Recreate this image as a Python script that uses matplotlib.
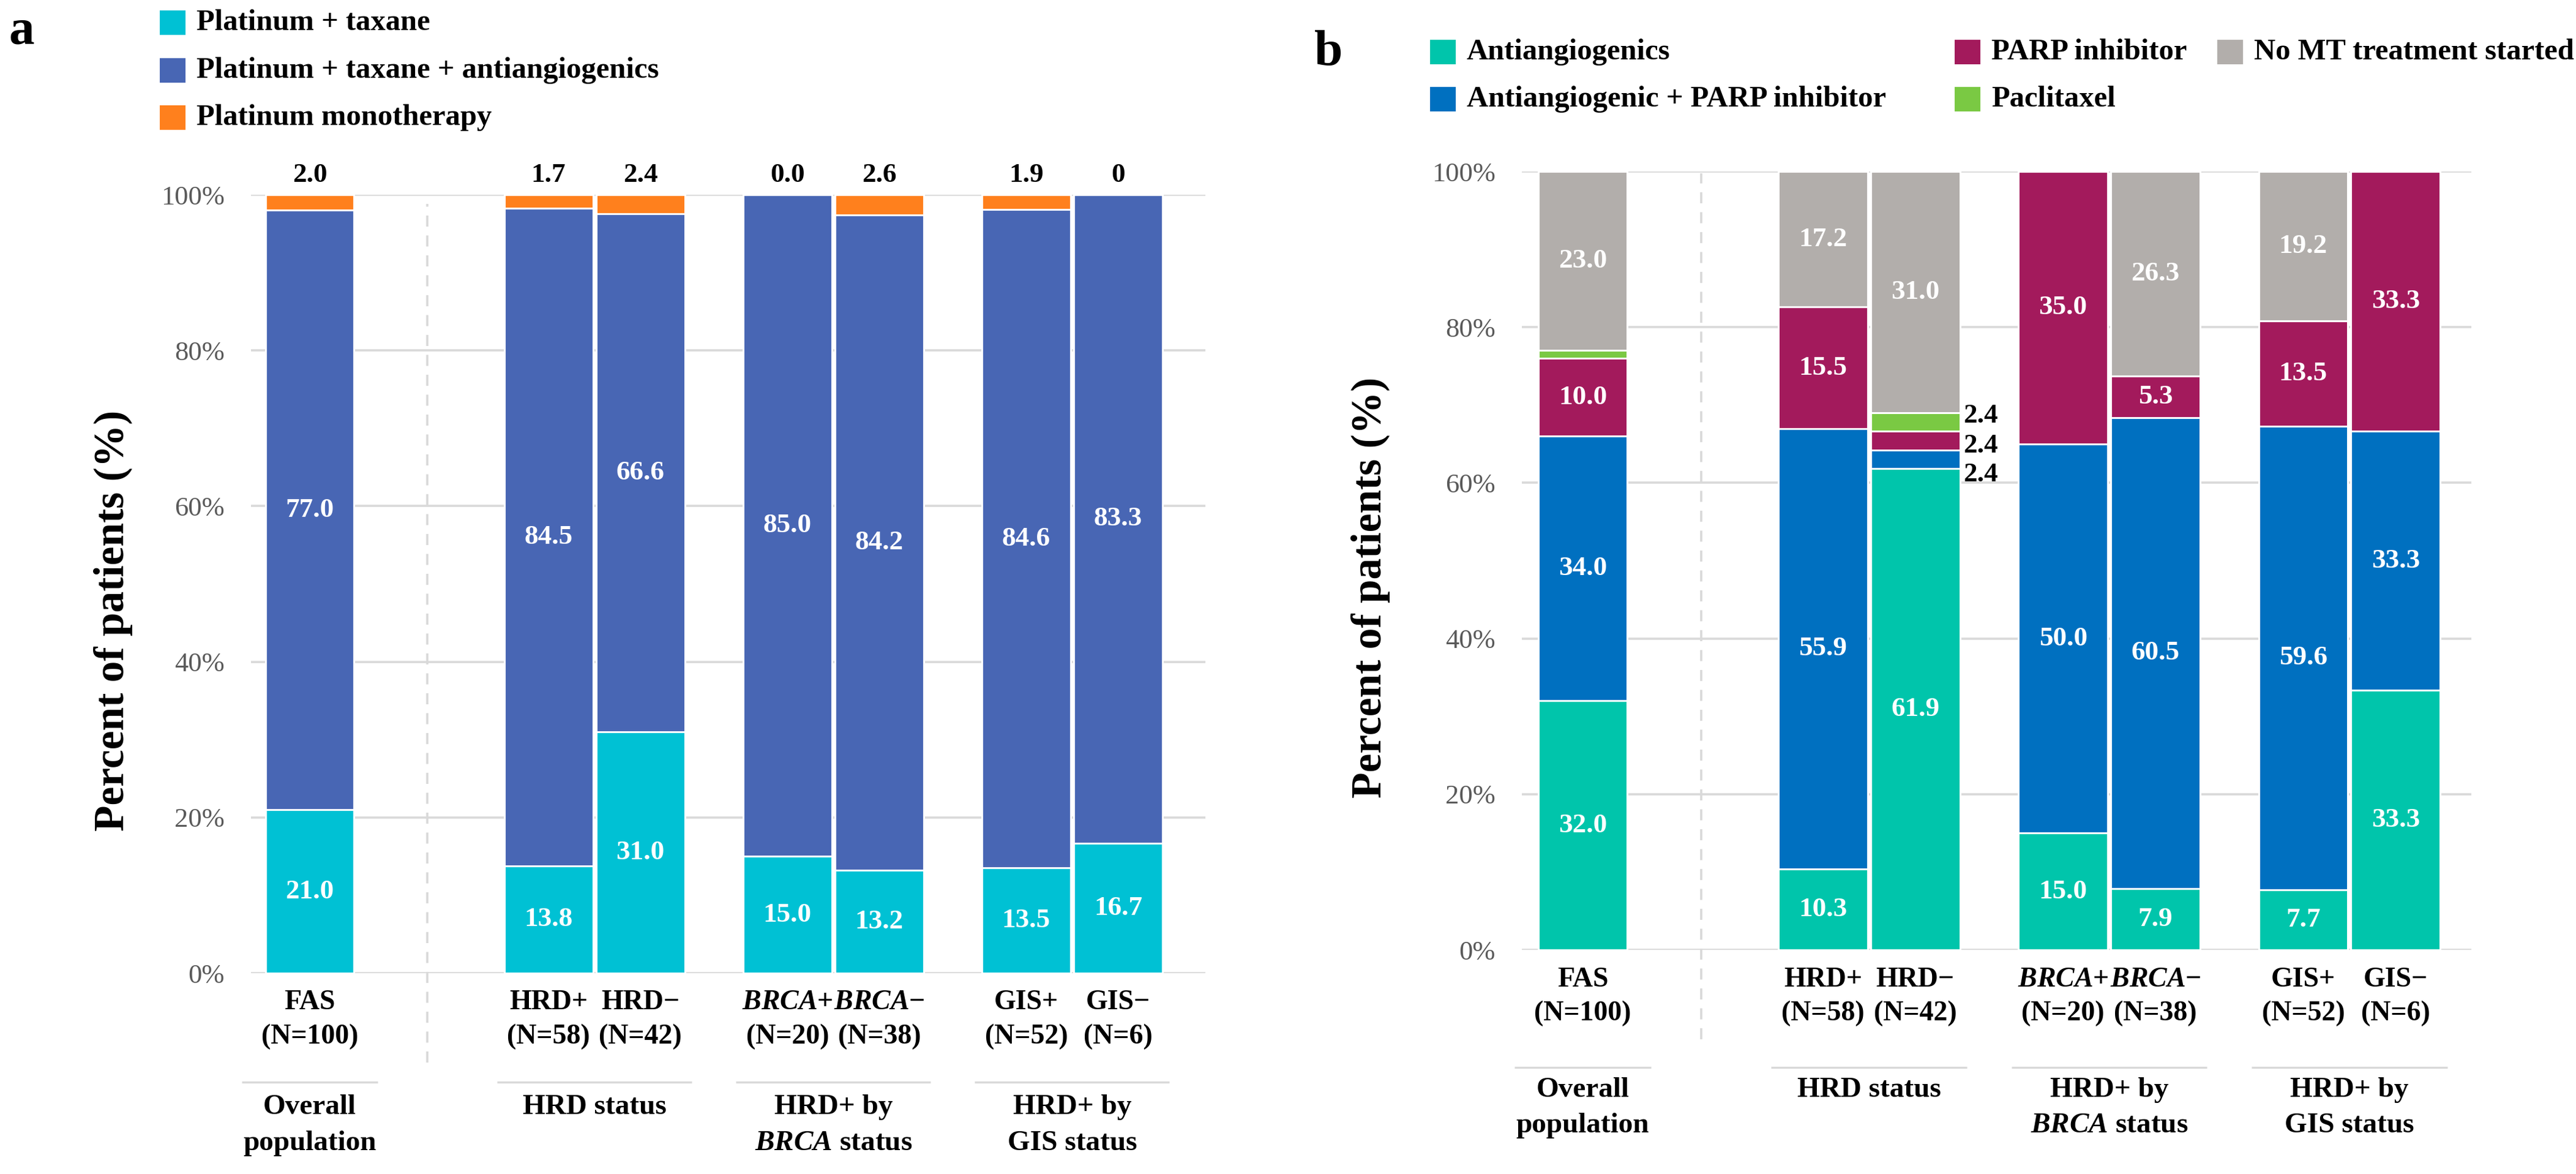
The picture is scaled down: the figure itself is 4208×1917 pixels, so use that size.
import numpy as np
import matplotlib
matplotlib.use('Agg')
import matplotlib.pyplot as plt
import matplotlib.transforms as mtransforms
from matplotlib.patches import Rectangle

plt.rcParams['font.family'] = ['Liberation Serif', 'DejaVu Serif']
plt.rcParams['mathtext.fontset'] = 'custom'
plt.rcParams['mathtext.it'] = 'Liberation Serif:italic:bold'
plt.rcParams['mathtext.rm'] = 'Liberation Serif:bold'
plt.rcParams['mathtext.bf'] = 'Liberation Serif:bold'

# ---- data ----
tick_names = ['FAS', 'HRD+', 'HRD\u2212', '$\\mathit{BRCA}$+', '$\\mathit{BRCA}$\u2212',
              'GIS+', 'GIS\u2212']
tick_ns = ['(N=100)', '(N=58)', '(N=42)', '(N=20)', '(N=38)', '(N=52)', '(N=6)']
group_line1 = ['Overall', 'HRD status', 'HRD+ by', 'HRD+ by']
group_line2 = ['population', '', '$\\mathit{BRCA}$ status', 'GIS status']
group_members = [(0, 0), (1, 2), (3, 4), (5, 6)]

# panel a
a_series = ['Platinum + taxane', 'Platinum + taxane + antiangiogenics',
            'Platinum monotherapy']
a_plat_taxane = [21.0, 13.8, 31.0, 15.0, 13.2, 13.5, 16.7]
a_plat_taxane_anti = [77.0, 84.5, 66.6, 85.0, 84.2, 84.6, 83.3]
a_plat_mono = [2.0, 1.7, 2.4, 0.0, 2.6, 1.9, 0.0]
a_top_labels = ['2.0', '1.7', '2.4', '0.0', '2.6', '1.9', '0']

# panel b
b_series = ['Antiangiogenics', 'Antiangiogenic + PARP inhibitor', 'PARP inhibitor',
            'Paclitaxel', 'No MT treatment started']
b_anti = [32.0, 10.3, 61.9, 15.0, 7.9, 7.7, 33.3]
b_anti_parp = [34.0, 55.9, 2.4, 50.0, 60.5, 59.6, 33.3]
b_parp = [10.0, 15.5, 2.4, 35.0, 5.3, 13.5, 33.3]
b_paclitaxel = [1.0, 0.0, 2.4, 0.0, 0.0, 0.0, 0.0]
b_no_mt = [23.0, 17.2, 31.0, 0.0, 26.3, 19.2, 0.0]

# ---- layout / style ----
W, H = 4208, 1917
positions = np.array([0, 2.6, 3.6, 5.2, 6.2, 7.8, 8.8])
bar_w = 0.965
div_x = 1.28
grid_c = '#d9d9d9'
a_colors = ['#00c1d4', '#4866b4', '#ff801d']
b_colors = ['#00c5ab', '#0070c0', '#a31a5c', '#7ac943', '#b2aeab']
VAL_FS = 32.5
TICK_FS = 33
LEG_FS = 35


def fx(px):
    return px / W


def fy(px):
    return 1 - px / H


fig = plt.figure(figsize=(W / 100, H / 100), dpi=100)
ax_a = fig.add_axes([fx(410), fy(1589), (1969 - 410) / W, (1589 - 318) / H])
ax_b = fig.add_axes([fx(2486), fy(1551), (4037 - 2486) / W, (1551 - 280) / H])


def style_axes(ax, xlim, ypx, dash_y):
    ax.set_xlim(*xlim)
    ax.set_ylim(0, 100)
    ax.set_yticks(np.arange(0, 101, 20))
    ax.set_yticklabels(['{}%'.format(v) for v in range(0, 101, 20)])
    ax.tick_params(axis='y', length=0, pad=31, labelsize=32, labelcolor='#5a5a5a')
    ax.set_xticks([])
    for s in ax.spines.values():
        s.set_visible(False)
    ax.yaxis.grid(True, color=grid_c, lw=2.6)
    ax.set_axisbelow(True)
    ax.vlines(div_x, dash_y[0], dash_y[1], colors=grid_c, lw=2.6,
              linestyles=(0, (5, 4)), clip_on=False)

    tr = mtransforms.blended_transform_factory(ax.transData, fig.transFigure)
    for x, name, n in zip(positions, tick_names, tick_ns):
        ax.text(x, fy(ypx[0]), name, transform=tr, ha='center', va='center',
                fontsize=TICK_FS, fontweight='bold')
        ax.text(x, fy(ypx[1]), n, transform=tr, ha='center', va='center',
                fontsize=TICK_FS, fontweight='bold')
    for (i0, i1), l1, l2 in zip(group_members, group_line1, group_line2):
        mid = (positions[i0] + positions[i1]) / 2
        half = 0.74 if i0 == i1 else 1.06
        ax.plot([mid - half, mid + half], [fy(ypx[2])] * 2, transform=tr,
                color=grid_c, lw=2.4, clip_on=False, solid_capstyle='butt')
        ax.text(mid, fy(ypx[3]), l1, transform=tr, ha='center', va='center',
                fontsize=34, fontweight='bold')
        if l2:
            ax.text(mid, fy(ypx[4]), l2, transform=tr, ha='center', va='center',
                    fontsize=34, fontweight='bold')


def stacked(ax, series, colors):
    data = np.array(series, dtype=float)
    shares = data / data.sum(axis=0) * 100
    bottoms = np.zeros(data.shape[1])
    centers = []
    for k in range(data.shape[0]):
        ax.bar(positions, shares[k], bar_w, bottom=bottoms, color=colors[k],
               edgecolor='white', linewidth=2.2, zorder=2)
        centers.append(bottoms + shares[k] / 2)
        bottoms = bottoms + shares[k]
    return data, np.array(centers)


# ---- panel a ----
style_axes(ax_a, (-0.64, 9.75), (1637, 1693, 1767, 1808, 1867), (-11.5, 98.8))
data_a, cen_a = stacked(ax_a, [a_plat_taxane, a_plat_taxane_anti, a_plat_mono],
                        a_colors)
for k in range(2):
    for i, x in enumerate(positions):
        ax_a.text(x, cen_a[k, i], '{:.1f}'.format(data_a[k, i]), ha='center',
                  va='center', color='white', fontsize=VAL_FS, fontweight='bold',
                  zorder=3)
for x, lab in zip(positions, a_top_labels):
    ax_a.text(x, 102.5, lab, ha='center', va='center', fontsize=VAL_FS,
              fontweight='bold', clip_on=False)

# ---- panel b ----
style_axes(ax_b, (-0.66, 9.62), (1600, 1655, 1743, 1780, 1838), (-11.5, 99.8))
data_b, cen_b = stacked(ax_b, [b_anti, b_anti_parp, b_parp, b_paclitaxel, b_no_mt],
                        b_colors)
outside_nudge = {1: -2.0, 2: -0.7, 3: 0.8}
for k in range(data_b.shape[0]):
    for i, x in enumerate(positions):
        v = data_b[k, i]
        if v >= 5:
            ax_b.text(x, cen_b[k, i], '{:.1f}'.format(v), ha='center',
                      va='center', color='white', fontsize=VAL_FS,
                      fontweight='bold', zorder=3)
        elif v >= 2:
            ax_b.text(x + bar_w / 2 + 0.04, cen_b[k, i] + outside_nudge.get(k, 0),
                      '{:.1f}'.format(v), ha='left', va='center', color='black',
                      fontsize=VAL_FS, fontweight='bold', zorder=3, clip_on=False)

# ---- y labels and panel letters ----
fig.text(fx(185), fy(1013), 'Percent of patients (%)', rotation=90, ha='center',
         va='center', fontsize=50, fontweight='bold')
fig.text(fx(2239), fy(959), 'Percent of patients (%)', rotation=90, ha='center',
         va='center', fontsize=50, fontweight='bold')
fig.text(fx(35), fy(52), 'a', ha='center', va='center', fontsize=60,
         fontweight='bold')
fig.text(fx(2170), fy(86), 'b', ha='center', va='center', fontsize=60,
         fontweight='bold')

# ---- legends ----
def legend_entry(x_px, y_px, label, color):
    fig.patches.append(Rectangle((fx(x_px), fy(y_px + 20)), 42 / W, 40 / H,
                                 transform=fig.transFigure, facecolor=color,
                                 edgecolor='none'))
    fig.text(fx(x_px + 60), fy(y_px), label, ha='left', va='center',
             fontsize=LEG_FS, fontweight='bold')


for lab, col, ypx in zip(a_series, a_colors, [37, 115, 192]):
    legend_entry(261, ypx, lab, col)

b_leg_xy = [(2336, 85), (2336, 162), (3193, 85), (3193, 162), (3622, 85)]
for lab, col, (xp, yp) in zip(b_series, b_colors, b_leg_xy):
    legend_entry(xp, yp, lab, col)

fig.savefig('out.png', dpi=100)
